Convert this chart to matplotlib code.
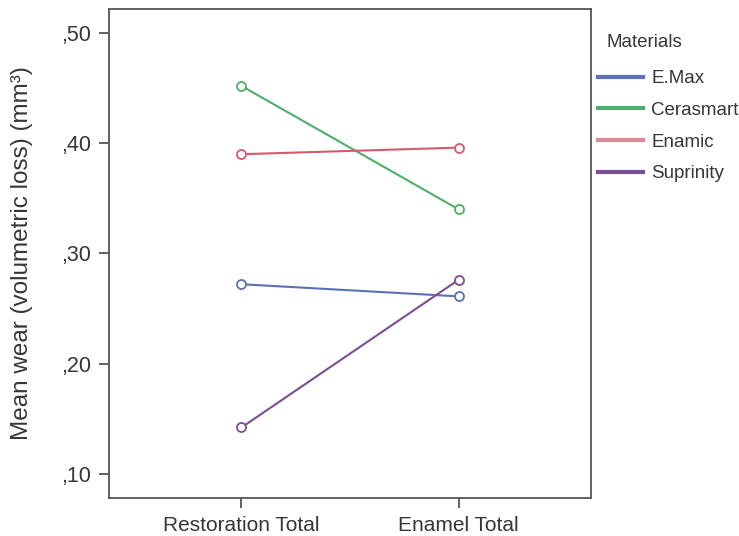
import matplotlib
matplotlib.use("Agg")
import matplotlib.pyplot as plt

plt.rcParams['font.family'] = ['Liberation Sans', 'DejaVu Sans']

# estimated marginal means
groups = ['Restoration Total', 'Enamel Total']
materials = ['E.Max', 'Cerasmart', 'Enamic', 'Suprinity']
emax = [0.272, 0.261]
cerasmart = [0.452, 0.340]
enamic = [0.390, 0.396]
suprinity = [0.142, 0.276]
yticks = [0.10, 0.20, 0.30, 0.40, 0.50]
ytick_labels = [',10', ',20', ',30', ',40', ',50']

colors = ['#5a72b5', '#4fae6a', '#d65a6e', '#7a4f94']
legend_colors = ['#5a72b5', '#4fae6a', '#d98a95', '#7a4f94']
series = [emax, cerasmart, enamic, suprinity]

txt = '#363636'
W, H = 739, 536
fig = plt.figure(figsize=(W / 100, H / 100), dpi=100)
ax = fig.add_axes([109 / W, 1 - 498 / H, (591 - 109) / W, (498 - 9) / H])

x = range(len(groups))
for vals, c in zip(series, colors):
    ax.plot(x, vals, color=c, lw=1.5, marker='o', ms=6.5, mfc='white',
            mec=c, mew=1.3)

ax.set_xlim(-0.61, 1.61)
ax.set_ylim(0.078, 0.5218)
ax.set_xticks(list(x))
ax.set_xticklabels(groups, fontsize=15, color=txt)
ax.set_yticks(yticks)
ax.set_yticklabels(ytick_labels, fontsize=15.5, color=txt)
ax.tick_params(length=7, width=1.3, color='#555555', pad=6)
for s in ax.spines.values():
    s.set_color('#555555')
    s.set_linewidth(1.3)
ax.set_ylabel('Mean wear (volumetric loss) (mm³)', fontsize=17.5, color=txt, labelpad=20)

# legend title placed by hand, it sits a bit indented from the swatches
fig.text(607 / W, 1 - 42 / H, 'Materials', fontsize=13.5, color=txt, va='center', ha='left')
handles = [plt.Line2D([], [], color=c, lw=3) for c in legend_colors]
leg = fig.legend(handles, materials, loc='upper left',
                 bbox_to_anchor=(598 / W, 1 - 70 / H), frameon=False,
                 borderpad=0, borderaxespad=0,
                 fontsize=13.5, handlelength=2.4,
                 handletextpad=0.45, labelspacing=0.78)
for t in leg.get_texts():
    t.set_color(txt)

fig.savefig('out.png', dpi=100)
